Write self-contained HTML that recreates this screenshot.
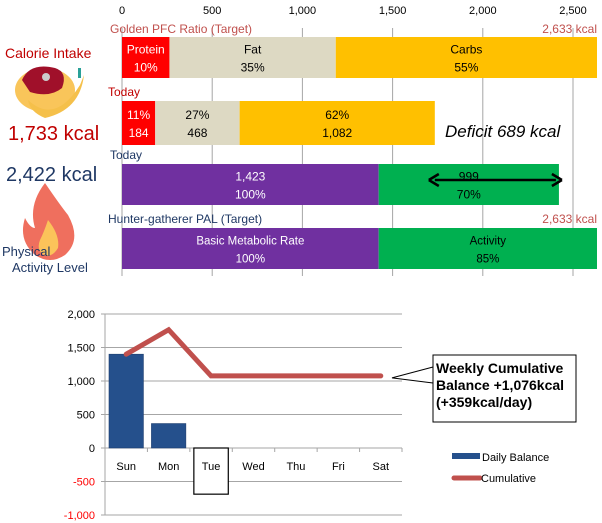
<!DOCTYPE html>
<html><head><meta charset="utf-8"><style>
body{margin:0;background:#fff;font-family:"Liberation Sans",sans-serif}
svg{display:block}
</style></head><body>
<svg id="c" width="602" height="523" xmlns="http://www.w3.org/2000/svg" font-family="Liberation Sans, sans-serif">
<g>
<text x="5" y="58" font-size="14" fill="#c00000">Calorie Intake</text>
<g>
<ellipse cx="45" cy="90" rx="30" ry="22" fill="#f9c55a"/>
<path d="M22 80 Q30 62 55 68 Q68 72 62 88 Q50 98 30 92 Z" fill="#a0102a"/>
<circle cx="46" cy="77" r="4" fill="#ccc"/>
<path d="M28 100 Q55 125 80 85 L84 75 Q80 110 45 118 Q30 112 28 100Z" fill="#f5c04a"/>
<rect x="78" y="68" width="3" height="10" fill="#2aa198"/>
</g>
<text x="8" y="140" font-size="20" fill="#c00000">1,733 kcal</text>
<text x="6" y="181" font-size="20" fill="#1f3864">2,422 kcal</text>
<g>
<path d="M45 183 Q60 205 68 215 Q82 240 65 255 Q50 265 35 255 Q18 240 25 218 Q30 228 35 228 Q28 205 45 183Z" fill="#ef6f5e"/>
<path d="M48 220 Q60 235 58 248 Q52 258 44 255 Q36 250 40 240 Q44 232 48 220Z" fill="#fbc35a"/>
</g>
<text x="2" y="256" font-size="13" fill="#1f3864">Physical</text>
<text x="12" y="272" font-size="13" fill="#1f3864">Activity Level</text>
</g>
<g id="topchart"></g>
<g id="botchart"></g>
</svg>
<script>
const NS="http://www.w3.org/2000/svg";
function mk(p,t,a,txt){const e=document.createElementNS(NS,t);for(const k in a)e.setAttribute(k,a[k]);if(txt!==undefined)e.textContent=txt;p.appendChild(e);return e;}
// top chart data
const topTicks=[0,500,1000,1500,2000,2500];
const targetPFC=[263,922,1448];
const targetPFCLabels=[["Protein","10%"],["Fat","35%"],["Carbs","55%"]];
const todayPFC=[184,468,1082];
const todayPFCLabels=[["11%","184"],["27%","468"],["62%","1,082"]];
const todayBurn=[1423,999];
const todayBurnLabels=[["1,423","100%"],["999","70%"]];
const targetBurn=[1423,1210];
const targetBurnLabels=[["Basic Metabolic Rate","100%"],["Activity","85%"]];
const deficit=689;
// bottom chart data
const days=["Sun","Mon","Tue","Wed","Thu","Fri","Sat"];
const daily=[1400,365,-689];
const cumulative=[1400,1765,1076,1076,1076,1076,1076];
const yTicks=[2000,1500,1000,500,0,-500,-1000];

const topG=document.getElementById('topchart');
const X=v=>122+v*(451/2500);
topTicks.forEach(t=>{
 const l=mk(topG,'line',{x1:X(t),x2:X(t),y1:28,y2:276,stroke:'#a6a6a6','stroke-width':1});
 
 
 const tx=mk(topG,'text',{x:X(t),y:14,'font-size':11,'text-anchor':'middle',fill:'#000'},t.toLocaleString('en-US'));
 
 
});
function row(vals,labels,colors,tcolors,y,h,name,fs){
 let acc=0;
 vals.forEach((v,i)=>{
  const r=mk(topG,'rect',{x:X(acc),y:y,width:X(acc+v)-X(acc),height:h,fill:colors[i]});
  
  
  const cx=(X(acc)+X(acc+v))/2;
  labels[i].forEach((s,j)=>{
   const t=mk(topG,'text',{x:cx,y:y+h/2-4+j*18,'font-size':fs||12,'text-anchor':'middle',fill:tcolors[i]},s);
   
   
  });
  acc+=v;
 });
}
const pc=['#ff0000','#ddd9c3','#ffc000'],pt=['#fff','#000','#000'];
row(targetPFC,targetPFCLabels,pc,pt,37,41,'target-pfc');
row(todayPFC,todayPFCLabels,pc,pt,101,44,'today-pfc');
row(todayBurn,todayBurnLabels,['#7030a0','#00b050'],['#fff','#000'],164,41,'today-burn');
row(targetBurn,targetBurnLabels,['#7030a0','#00b050'],['#fff','#000'],228,41,'target-burn',11.5);
const lbl=(x,y,s,c,n,a)=>{const t=mk(topG,'text',{x:x,y:y,'font-size':12,fill:c,'text-anchor':a||'start'},s);
 
 };
lbl(110,33,'Golden PFC Ratio (Target)','#c0504d','target-pfc-title');
lbl(597,33,'2,633 kcal','#c0504d','target-pfc-total','end');
lbl(108,96,'Today','#c00000','today-intake-title');
lbl(110,159,'Today','#1f3864','today-burn-title');
lbl(108,223,'Hunter-gatherer  PAL (Target)','#1f3864','target-pal-title');
lbl(597,223,'2,633 kcal','#c0504d','target-pal-total','end');
const total=todayBurn[0]+todayBurn[1], intake=todayPFC.reduce((a,b)=>a+b,0);
const ar=mk(topG,'g',{});


const ax1=X(intake)-6,ax2=X(total)+3;
mk(ar,'line',{x1:ax1+6,x2:ax2-6,y1:180,y2:180,stroke:'#000','stroke-width':2.5});
mk(ar,'path',{d:`M${ax1} 180 l10 -6 M${ax1} 180 l10 6 M${ax2} 180 l-10 -6 M${ax2} 180 l-10 6`,stroke:'#000','stroke-width':2.5,fill:'none'});
const dt=mk(topG,'text',{x:445,y:137,'font-size':17,'font-style':'italic',fill:'#000'},'Deficit '+deficit+' kcal');



// bottom chart
const botG=document.getElementById('botchart');
const Y=v=>448-v*0.067, L=105,R=402,cw=(R-L)/days.length;
yTicks.forEach(t=>{
 const l=mk(botG,'line',{x1:L-4,x2:R,y1:Y(t),y2:Y(t),stroke:'#a6a6a6'});
 
 
 const tx=mk(botG,'text',{x:95,y:Y(t)+4,'font-size':11,'text-anchor':'end',fill:t<0?'#ff0000':'#000'},t.toLocaleString('en-US'));
 
 
});
const ya=mk(botG,'line',{x1:L,x2:L,y1:Y(2000),y2:Y(-1000),stroke:'#a6a6a6'});


daily.forEach((v,i)=>{
 const x=L+i*cw+4,w=cw-8;
 const r=mk(botG,'rect',{x:x,y:Math.min(Y(v),Y(0)),width:w,height:Math.abs(Y(v)-Y(0)),fill:v<0?'#fff':'#25508c',stroke:v<0?'#000':'#1f3f6f','stroke-width':v<0?1.2:0.6});
 
 
});
days.forEach((d,i)=>{
 const t=mk(botG,'text',{x:L+(i+0.5)*cw,y:470,'font-size':11,'text-anchor':'middle',fill:'#000'},d);
 
 
 const tk=mk(botG,'line',{x1:L+(i+1)*cw,x2:L+(i+1)*cw,y1:Y(0),y2:Y(0)+4,stroke:'#a6a6a6'});
 
 
});
const pts=cumulative.map((v,i)=>(L+(i+0.5)*cw)+','+Y(v)).join(' ');
const pl=mk(botG,'polyline',{points:pts,fill:'none',stroke:'#c0504d','stroke-width':5,'stroke-linecap':'round','stroke-linejoin':'miter'});


const cl=mk(botG,'g',{});


const lastY=Y(cumulative[cumulative.length-1]);
mk(cl,'path',{d:`M433 367 L392 ${lastY+2} L433 383`,fill:'#fff',stroke:'#000','stroke-width':1});
mk(cl,'rect',{x:433,y:355,width:143,height:67,fill:'#fff',stroke:'#000','stroke-width':1});
['Weekly Cumulative','Balance +1,076kcal','(+359kcal/day)'].forEach((s,i)=>mk(cl,'text',{x:436,y:373+i*17,'font-size':14,'font-weight':'bold',fill:'#000'},s));
const lg=mk(botG,'g',{});


mk(lg,'rect',{x:452,y:453,width:28,height:6,fill:'#25508c'});
mk(lg,'text',{x:482,y:461,'font-size':11,fill:'#000'},'Daily Balance');
mk(lg,'line',{x1:454,x2:480,y1:478,y2:478,stroke:'#c0504d','stroke-width':5,'stroke-linecap':'round'});
mk(lg,'text',{x:481,y:482,'font-size':11,fill:'#000'},'Cumulative');
</script>
</body></html>
